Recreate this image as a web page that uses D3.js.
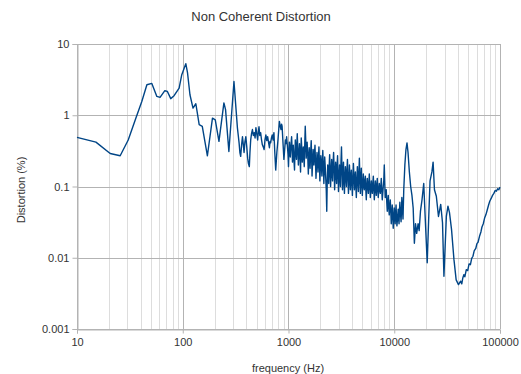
<!DOCTYPE html>
<html>
<head>
<meta charset="utf-8">
<script src="https://cdn.jsdelivr.net/npm/d3@7"></script>
<style>
  body { margin: 0; background: #fff; }
  text { font-family: "Liberation Sans", Arial, sans-serif; fill: #333; }
</style>
</head>
<body>
<div id="chart"></div>
<script>
// 10 Hz - 305 Hz
var lowFreq = [
  10, 15.1, 20.6, 25.6, 30.5, 36, 41, 45.8, 51, 56.9,
  61, 67.7, 71.6, 77, 82.8, 92.4, 97.9, 106.9, 111, 117,
  125, 133, 143, 153, 171, 191, 203, 220, 245, 254,
  273, 305
];
var lowDist = [
  0.49, 0.42, 0.29, 0.27, 0.45, 0.91, 1.56, 2.68, 2.8, 1.84,
  1.78, 2.21, 2.16, 1.71, 1.88, 2.41, 3.71, 5.3, 3.92, 1.94,
  1.26, 1.45, 0.74, 0.70, 0.27, 0.91, 0.86, 0.43, 1.49, 1.2,
  0.31, 2.98
];
// 329 Hz - 990 Hz
var lowMidFreq = [
  329, 335, 341, 347, 353, 360, 367, 373, 380, 387,
  395, 403, 411, 418, 426, 432, 439, 447, 456, 465,
  474, 483, 492, 501, 511, 518, 526, 535, 545, 555,
  566, 577, 588, 599, 611, 623, 635, 647, 660, 669,
  678, 690, 702, 715, 728, 742, 757, 776, 795, 808,
  820, 835, 850, 860, 870, 888, 905, 920, 935, 948,
  960, 975, 990
];
var lowMidDist = [
  0.66, 0.52, 0.41, 0.30, 0.265, 0.38, 0.50, 0.40, 0.30, 0.42,
  0.50, 0.36, 0.25, 0.21, 0.19, 0.30, 0.45, 0.55, 0.63, 0.52,
  0.57, 0.48, 0.67, 0.55, 0.45, 0.58, 0.69, 0.52, 0.57, 0.46,
  0.385, 0.36, 0.33, 0.45, 0.53, 0.44, 0.50, 0.42, 0.35, 0.43,
  0.41, 0.48, 0.53, 0.45, 0.57, 0.30, 0.17, 0.30, 0.45, 0.62,
  0.82, 0.70, 0.63, 0.75, 0.70, 0.40, 0.24, 0.33, 0.45, 0.40,
  0.50, 0.38, 0.28
];
// 1 kHz - 12.1 kHz
var midFreq = [
  1000, 1010, 1020, 1030, 1040, 1055, 1070, 1080, 1090, 1100,
  1110, 1125, 1140, 1150, 1160, 1175, 1190, 1200, 1210, 1225,
  1240, 1255, 1270, 1285, 1300, 1310, 1320, 1335, 1350, 1365,
  1380, 1395, 1410, 1425, 1440, 1455, 1470, 1485, 1500, 1520,
  1540, 1555, 1570, 1585, 1600, 1620, 1640, 1655, 1670, 1690,
  1710, 1725, 1740, 1760, 1780, 1800, 1820, 1840, 1860, 1880,
  1900, 1920, 1940, 1960, 1980, 2000, 2020, 2045, 2070, 2090,
  2110, 2135, 2160, 2180, 2200, 2225, 2250, 2275, 2300, 2325,
  2350, 2375, 2400, 2425, 2450, 2475, 2500, 2530, 2560, 2585,
  2610, 2640, 2670, 2700, 2730, 2760, 2790, 2820, 2850, 2880,
  2910, 2940, 2970, 3005, 3040, 3070, 3100, 3135, 3170, 3205,
  3240, 3275, 3310, 3345, 3380, 3415, 3450, 3490, 3530, 3570,
  3610, 3650, 3690, 3730, 3770, 3810, 3850, 3890, 3930, 3975,
  4020, 4065, 4110, 4155, 4200, 4245, 4290, 4335, 4380, 4430,
  4480, 4530, 4580, 4630, 4680, 4730, 4780, 4830, 4880, 4935,
  4990, 5045, 5100, 5155, 5210, 5270, 5330, 5385, 5440, 5500,
  5560, 5625, 5690, 5750, 5810, 5875, 5940, 6005, 6070, 6135,
  6200, 6270, 6340, 6410, 6480, 6550, 6620, 6690, 6760, 6835,
  6910, 6985, 7060, 7140, 7220, 7300, 7380, 7460, 7540, 7620,
  7700, 7785, 7870, 7960, 8050, 8135, 8220, 8310, 8400, 8495,
  8590, 8685, 8780, 8875, 8970, 9070, 9170, 9270, 9370, 9470,
  9570, 9675, 9780, 9890, 10000, 10100, 10200, 10300, 10400, 10500,
  10600, 10750, 10900, 11000, 11100, 11200, 11300, 11450, 11600, 11700,
  11800, 11950, 12100
];
var midDist = [
  0.19, 0.33, 0.42, 0.30, 0.26, 0.38, 0.50, 0.35, 0.22, 0.30,
  0.38, 0.24, 0.17, 0.28, 0.45, 0.32, 0.24, 0.40, 0.55, 0.33,
  0.20, 0.29, 0.40, 0.26, 0.16, 0.30, 0.48, 0.34, 0.22, 0.28,
  0.36, 0.25, 0.19, 0.40, 0.70, 0.45, 0.25, 0.32, 0.42, 0.28,
  0.15, 0.24, 0.35, 0.27, 0.18, 0.30, 0.44, 0.25, 0.14, 0.22,
  0.33, 0.26, 0.20, 0.29, 0.38, 0.22, 0.13, 0.20, 0.30, 0.24,
  0.16, 0.25, 0.36, 0.22, 0.12, 0.18, 0.27, 0.20, 0.14, 0.23,
  0.32, 0.19, 0.11, 0.17, 0.26, 0.19, 0.13, 0.09, 0.045, 0.12,
  0.20, 0.15, 0.11, 0.19, 0.28, 0.17, 0.10, 0.16, 0.24, 0.15,
  0.12, 0.21, 0.30, 0.18, 0.09, 0.14, 0.22, 0.16, 0.11, 0.19,
  0.27, 0.15, 0.085, 0.13, 0.20, 0.14, 0.10, 0.22, 0.36, 0.17,
  0.09, 0.15, 0.22, 0.12, 0.08, 0.13, 0.19, 0.14, 0.10, 0.17,
  0.24, 0.13, 0.08, 0.12, 0.20, 0.13, 0.09, 0.14, 0.17, 0.11,
  0.075, 0.13, 0.21, 0.14, 0.09, 0.12, 0.16, 0.10, 0.07, 0.12,
  0.19, 0.12, 0.085, 0.15, 0.25, 0.13, 0.08, 0.12, 0.18, 0.11,
  0.075, 0.11, 0.15, 0.10, 0.09, 0.12, 0.14, 0.09, 0.065, 0.10,
  0.13, 0.10, 0.08, 0.11, 0.15, 0.10, 0.07, 0.09, 0.12, 0.09,
  0.08, 0.11, 0.14, 0.09, 0.065, 0.09, 0.12, 0.10, 0.075, 0.10,
  0.13, 0.09, 0.07, 0.09, 0.11, 0.09, 0.08, 0.10, 0.13, 0.09,
  0.065, 0.08, 0.10, 0.12, 0.20, 0.11, 0.07, 0.08, 0.09, 0.06,
  0.045, 0.06, 0.075, 0.05, 0.04, 0.055, 0.065, 0.045, 0.03, 0.04,
  0.055, 0.04, 0.026, 0.035, 0.05, 0.04, 0.03, 0.042, 0.055, 0.038,
  0.028, 0.036, 0.048, 0.035, 0.03, 0.045, 0.06, 0.042, 0.032, 0.045,
  0.07, 0.05, 0.035
];
// 12.3 kHz - 100 kHz
var highFreq = [
  12300, 12600, 12900, 13200, 13500, 13900, 14300, 14700, 15100, 15500,
  15900, 16300, 16800, 17200, 17700, 18300, 19000, 19600, 20500, 21200,
  21800, 22700, 23300, 24000, 25000, 26200, 27500, 28600, 29500, 31100,
  32200, 33300, 34800, 36700, 38500, 40500, 42400, 43500, 44500, 45500,
  46500, 48000, 49500, 51000, 52500, 54000, 55500, 57000, 59000, 60500,
  62000, 64000, 66000, 67500, 69500, 71500, 73500, 75500, 78000, 80000,
  82500, 85000, 87500, 90000, 92500, 95000, 97500, 100000
];
var highDist = [
  0.09, 0.20, 0.33, 0.41, 0.30, 0.16, 0.10, 0.075, 0.05, 0.016,
  0.03, 0.022, 0.03, 0.024, 0.045, 0.065, 0.11, 0.038, 0.0085, 0.038,
  0.12, 0.16, 0.22, 0.09, 0.073, 0.038, 0.056, 0.031, 0.0055, 0.038,
  0.053, 0.043, 0.025, 0.0094, 0.0049, 0.0042, 0.0047, 0.0043, 0.0052, 0.0058,
  0.0054, 0.0068, 0.0066, 0.0082, 0.0080, 0.0098, 0.0105, 0.0125, 0.0135, 0.0158,
  0.0165, 0.020, 0.023, 0.027, 0.030, 0.036, 0.040, 0.046, 0.055, 0.062,
  0.068, 0.075, 0.080, 0.088, 0.086, 0.093, 0.090, 0.098
];
var xTicks = [10, 100, 1000, 10000, 100000];
var yTicks = [0.001, 0.01, 0.1, 1, 10];

var freq = lowFreq.concat(lowMidFreq, midFreq, highFreq);
var dist = lowDist.concat(lowMidDist, midDist, highDist);
var points = freq.map(function(f, i) { return { f: f, v: dist[i] }; })
  .filter(function(d) { return d.v != null; });

var width = 521, height = 374;
var plotL = 77, plotR = 500, plotT = 44, plotB = 329;

var x = d3.scaleLog().domain([10, 100000]).range([plotL, plotR]);
var y = d3.scaleLog().domain([0.001, 10]).range([plotB, plotT]);

var svg = d3.select("#chart").append("svg")
  .attr("width", width)
  .attr("height", height);

// minor vertical grid (2..9 in each decade)
var minor = [];
xTicks.slice(0, -1).forEach(function(d) {
  for (var k = 2; k <= 9; k++) minor.push(d * k);
});
svg.append("g").selectAll("line")
  .data(minor)
  .enter().append("line")
  .attr("x1", function(d) { return Math.round(x(d)) + 0.5; })
  .attr("x2", function(d) { return Math.round(x(d)) + 0.5; })
  .attr("y1", plotT).attr("y2", plotB)
  .attr("stroke", "#dddddd");

// major grid
svg.append("g").selectAll("line")
  .data(xTicks)
  .enter().append("line")
  .attr("x1", function(d) { return Math.round(x(d)) + 0.5; })
  .attr("x2", function(d) { return Math.round(x(d)) + 0.5; })
  .attr("y1", plotT).attr("y2", plotB)
  .attr("stroke", "#b3b3b3");
svg.append("g").selectAll("line")
  .data(yTicks)
  .enter().append("line")
  .attr("x1", plotL).attr("x2", plotR)
  .attr("y1", function(d) { return Math.round(y(d)) + 0.5; })
  .attr("y2", function(d) { return Math.round(y(d)) + 0.5; })
  .attr("stroke", "#b3b3b3");

var xAxis = d3.axisBottom(x).tickValues(xTicks).tickFormat(d3.format("d")).tickSize(4).tickPadding(5);
var yAxis = d3.axisLeft(y).tickValues(yTicks).tickFormat(function(d) { return String(d); }).tickSize(5).tickPadding(3);

var gx = svg.append("g").attr("transform", "translate(0," + (plotB + 0.5) + ")").call(xAxis);
var gy = svg.append("g").attr("transform", "translate(" + (plotL + 0.5) + ",0)").call(yAxis);
[gx, gy].forEach(function(g) {
  g.selectAll("path, line").attr("stroke", "#b3b3b3");
  g.selectAll("text").style("font-size", "11px").attr("fill", "#333");
});

var line = d3.line()
  .x(function(d) { return x(d.f); })
  .y(function(d) { return y(d.v); });

svg.append("path")
  .datum(points)
  .attr("d", line)
  .attr("fill", "none")
  .attr("stroke", "#004586")
  .attr("stroke-width", 1.4)
  .attr("stroke-linejoin", "round");

svg.append("text")
  .attr("x", 261).attr("y", 21)
  .attr("text-anchor", "middle")
  .style("font-size", "13px")
  .text("Non Coherent Distortion");

svg.append("text")
  .attr("x", 288).attr("y", 372)
  .attr("text-anchor", "middle")
  .style("font-size", "11px")
  .text("frequency (Hz)");

svg.append("text")
  .attr("transform", "translate(25,190) rotate(-90)")
  .attr("text-anchor", "middle")
  .style("font-size", "11px")
  .text("Distortion (%)");
</script>
</body>
</html>
